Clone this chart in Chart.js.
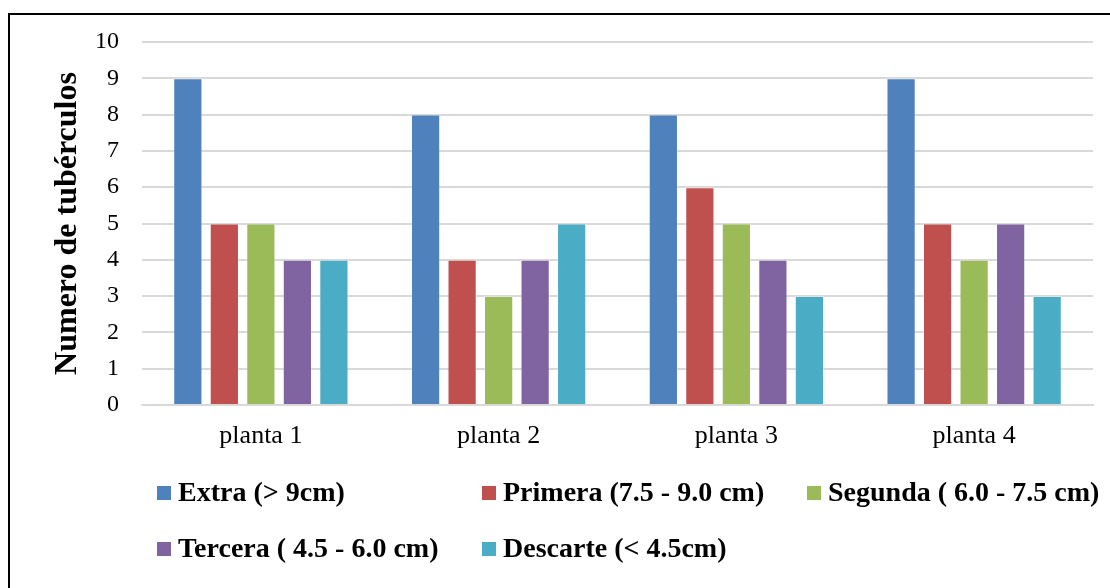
<!DOCTYPE html>
<html>
<head>
<meta charset="utf-8">
<script src="https://cdn.jsdelivr.net/npm/chart.js@4/dist/chart.umd.min.js"></script>
<style>
  html, body { margin: 0; padding: 0; background: #fff; }
  #wrap { position: relative; width: 1110px; height: 588px; }
</style>
</head>
<body>
<div id="wrap"><canvas id="c" width="1110" height="588"></canvas></div>
<script>
// Categories and series
const plantas = ['planta 1', 'planta 2', 'planta 3', 'planta 4'];
const extra    = [9, 8, 8, 9];
const primera  = [5, 4, 6, 5];
const segunda  = [5, 3, 5, 4];
const tercera  = [4, 4, 4, 5];
const descarte = [4, 5, 3, 3];
const seriesNames = [
  'Extra (> 9cm)',
  'Primera (7.5 - 9.0 cm)',
  'Segunda ( 6.0 - 7.5 cm)',
  'Tercera ( 4.5 - 6.0 cm)',
  'Descarte (< 4.5cm)'
];
const seriesColors = ['#4F81BD', '#C0504D', '#9BBB59', '#8064A2', '#4BACC6'];
const yTicks = [0, 1, 2, 3, 4, 5, 6, 7, 8, 9, 10];

const serif = '"Liberation Serif", "Times New Roman", serif';
const seriesData = [extra, primera, segunda, tercera, descarte];

// Frame line along the top and left edges
const framePlugin = {
  id: 'frame',
  beforeDraw(chart) {
    const ctx = chart.ctx;
    ctx.save();
    ctx.fillStyle = '#fff';
    ctx.fillRect(0, 0, chart.width, chart.height);
    ctx.strokeStyle = '#000';
    ctx.lineWidth = 2;
    ctx.beginPath();
    ctx.moveTo(9, chart.height + 5);
    ctx.lineTo(9, 14);
    ctx.lineTo(chart.width + 5, 14);
    ctx.stroke();
    ctx.restore();
  }
};

// Legend laid out in fixed columns, two rows
const gridLegend = {
  id: 'gridLegend',
  afterDraw(chart) {
    const ctx = chart.ctx;
    const cols = [157, 482, 807];
    const rows = [493, 549];
    ctx.save();
    ctx.font = 'bold 28px ' + serif;
    ctx.textBaseline = 'middle';
    ctx.textAlign = 'left';
    chart.data.datasets.forEach((ds, i) => {
      const x = cols[i % 3];
      const y = rows[Math.floor(i / 3)];
      ctx.fillStyle = ds.backgroundColor;
      ctx.fillRect(x, y - 7, 14, 14);
      ctx.fillStyle = '#000';
      ctx.fillText(ds.label, x + 21, y + 1);
    });
    ctx.restore();
  }
};

const datasets = seriesData.map((d, i) => ({
  label: seriesNames[i],
  data: d,
  backgroundColor: seriesColors[i],
  borderColor: 'rgba(255,255,255,0.25)',
  borderWidth: 1,
  categoryPercentage: 0.768,
  barPercentage: 0.80
}));

new Chart(document.getElementById('c'), {
  type: 'bar',
  data: { labels: plantas, datasets },
  plugins: [framePlugin, gridLegend],
  options: {
    responsive: false,
    animation: false,
    layout: { padding: { left: 0, right: 17, top: 42, bottom: 0 } },
    plugins: {
      legend: { display: false },
      tooltip: { enabled: false }
    },
    scales: {
      x: {
        grid: { display: false, drawTicks: false },
        border: { display: true, color: '#d9d9d9', width: 2 },
        ticks: { color: '#000', font: { family: serif, size: 26 }, padding: 16 },
        afterFit(scale) { scale.height = 183; }
      },
      y: {
        min: 0,
        max: 10,
        afterBuildTicks(scale) { scale.ticks = yTicks.map(v => ({ value: v })); },
        grid: { color: '#d9d9d9', lineWidth: 2, drawTicks: false },
        border: { display: false },
        ticks: { color: '#000', font: { family: serif, size: 24 }, padding: 23 },
        title: {
          display: true,
          text: 'Numero de tubérculos',
          color: '#000',
          font: { family: serif, size: 32, weight: 'bold' },
          padding: { top: 49, bottom: 0 }
        },
        afterFit(scale) { scale.width = 142; }
      }
    }
  }
});
</script>
</body>
</html>
